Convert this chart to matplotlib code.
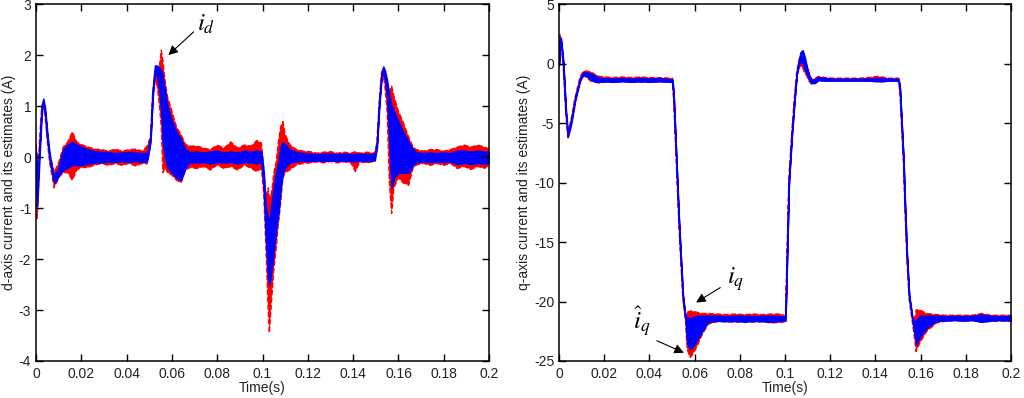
import numpy as np
import matplotlib
matplotlib.use("Agg")
import matplotlib.pyplot as plt

plt.rcParams['font.family'] = ['Liberation Sans', 'DejaVu Sans']
plt.rcParams['mathtext.fontset'] = 'stix'
plt.rcParams['axes.unicode_minus'] = False

# d-axis current: time knots and envelopes (lo/hi)
td = [0, 0.0005, 0.0015, 0.0025, 0.0032, 0.004, 0.005, 0.006, 0.007, 0.008, 0.009, 0.010,
      0.011, 0.012, 0.014, 0.016, 0.018, 0.020, 0.023, 0.026, 0.029, 0.032, 0.035, 0.038, 0.041, 0.044, 0.047, 0.049,
      0.0505, 0.0515, 0.0525, 0.0535, 0.0545, 0.0553, 0.056, 0.057, 0.058, 0.060, 0.062, 0.064, 0.066, 0.068,
      0.071, 0.074, 0.077, 0.080, 0.083, 0.086, 0.089, 0.092, 0.095, 0.0975, 0.0995,
      0.1005, 0.1015, 0.1025, 0.103, 0.104, 0.105, 0.106, 0.107, 0.108, 0.109, 0.110, 0.112, 0.115, 0.118,
      0.121, 0.124, 0.127, 0.130, 0.133, 0.136, 0.139, 0.141, 0.143, 0.146, 0.1495,
      0.1505, 0.1515, 0.1525, 0.1533, 0.154, 0.155, 0.156, 0.157, 0.158, 0.160, 0.162, 0.1645, 0.1665,
      0.168, 0.171, 0.174, 0.177, 0.180, 0.183, 0.186, 0.189, 0.192, 0.195, 0.198, 0.2]

id_est_lo = [-0.1, -0.95, 0.0, 0.88, 1.08, 0.85, 0.35, -0.05, -0.3, -0.5, -0.45, -0.35,
             -0.3, -0.25, -0.2, -0.15, -0.15, -0.15, -0.12, -0.1, -0.1, -0.08, -0.09, -0.07, -0.09, -0.07, -0.09, -0.07,
             0.3, 1.2, 1.7, 1.6, 1.3, 0.9, 0.3, 0.0, -0.2, -0.3, -0.4, -0.45, -0.2, -0.1,
             -0.1, -0.09, -0.12, -0.09, -0.1, -0.09, -0.12, -0.09, -0.1, -0.12, -0.09,
             -0.6, -1.6, -2.4, -2.5, -2.2, -1.8, -1.4, -1.1, -0.6, -0.3, -0.2, -0.1, -0.08, -0.06,
             -0.07, -0.06, -0.07, -0.06, -0.07, -0.06, -0.07, -0.08, -0.06, -0.07, -0.06,
             0.2, 1.0, 1.55, 1.7, 1.55, 1.2, 0.3, -0.6, -0.4, -0.3, -0.3, -0.3, -0.15,
             -0.09, -0.08, -0.09, -0.08, -0.09, -0.08, -0.13, -0.11, -0.13, -0.11, -0.13, -0.1]
id_est_hi = [0.1, -0.6, 0.2, 1.0, 1.15, 0.95, 0.45, 0.05, -0.2, -0.35, -0.3, -0.2,
             0.0, 0.15, 0.25, 0.3, 0.25, 0.2, 0.15, 0.12, 0.1, 0.1, 0.08, 0.09, 0.1, 0.09, 0.08, 0.08,
             0.4, 1.3, 1.8, 1.8, 1.75, 1.7, 1.55, 1.3, 1.0, 0.7, 0.5, 0.35, 0.15, 0.1,
             0.11, 0.09, 0.11, 0.13, 0.09, 0.11, 0.09, 0.13, 0.11, 0.13, 0.11,
             -0.3, -1.0, -1.2, -1.3, -0.9, -0.6, -0.3, -0.1, 0.2, 0.3, 0.25, 0.15, 0.1, 0.08,
             0.07, 0.06, 0.07, 0.07, 0.06, 0.07, 0.06, 0.06, 0.07, 0.06, 0.06,
             0.3, 1.1, 1.65, 1.78, 1.7, 1.5, 1.2, 1.0, 0.9, 0.7, 0.5, 0.3, 0.15,
             0.09, 0.08, 0.09, 0.08, 0.09, 0.08, 0.13, 0.13, 0.11, 0.13, 0.11, 0.1]
id_lo = [-0.2, -1.2, -0.1, 0.85, 1.0, 0.8, 0.3, -0.1, -0.35, -0.6, -0.5, -0.4,
         -0.35, -0.3, -0.3, -0.45, -0.25, -0.2, -0.2, -0.15, -0.12, -0.16, -0.12, -0.16, -0.12, -0.17, -0.12, -0.13,
         0.2, 1.1, 1.5, 1.4, 1.0, 0.6, -0.3, -0.2, -0.3, -0.35, -0.45, -0.5, -0.25, -0.2,
         -0.22, -0.18, -0.25, -0.15, -0.22, -0.18, -0.25, -0.15, -0.22, -0.28, -0.22,
         -0.7, -1.8, -3.0, -3.45, -2.8, -2.2, -1.8, -1.3, -0.9, -0.4, -0.3, -0.25, -0.15, -0.12,
         -0.11, -0.09, -0.11, -0.08, -0.11, -0.09, -0.11, -0.28, -0.09, -0.11, -0.08,
         0.2, 0.9, 1.45, 1.6, 1.4, 0.9, -0.5, -1.1, -0.6, -0.4, -0.5, -0.55, -0.2,
         -0.15, -0.12, -0.16, -0.12, -0.16, -0.12, -0.22, -0.18, -0.24, -0.18, -0.22, -0.15]
id_hi = [0.25, -0.5, 0.3, 1.0, 1.1, 0.95, 0.45, 0.1, -0.1, -0.3, -0.2, -0.1,
         0.05, 0.2, 0.3, 0.5, 0.3, 0.25, 0.2, 0.16, 0.15, 0.12, 0.16, 0.12, 0.15, 0.16, 0.12, 0.22,
         0.4, 1.3, 1.7, 1.7, 1.8, 2.1, 1.9, 1.5, 1.2, 0.9, 0.6, 0.45, 0.25, 0.22,
         0.22, 0.18, 0.15, 0.24, 0.18, 0.3, 0.18, 0.24, 0.22, 0.33, 0.28,
         -0.2, -0.8, -0.6, -0.8, -0.7, -0.3, -0.1, 0.3, 0.6, 0.7, 0.45, 0.25, 0.15, 0.12,
         0.11, 0.08, 0.1, 0.11, 0.08, 0.1, 0.08, 0.11, 0.08, 0.1, 0.08,
         0.3, 1.1, 1.65, 1.75, 1.6, 1.4, 1.3, 1.4, 1.2, 0.9, 0.7, 0.4, 0.2,
         0.15, 0.12, 0.15, 0.15, 0.12, 0.15, 0.2, 0.24, 0.2, 0.24, 0.2, 0.16]

# q-axis current
tq = [0, 0.0004, 0.0009, 0.0019, 0.003, 0.0039, 0.0048, 0.0056, 0.0071, 0.0093, 0.0108,
      0.012, 0.014, 0.016, 0.018, 0.020, 0.024, 0.028, 0.032, 0.036, 0.040, 0.044, 0.0495,
      0.0502, 0.0508, 0.0519, 0.053, 0.0538, 0.0548, 0.056, 0.0567, 0.058, 0.059, 0.061, 0.0633, 0.066,
      0.070, 0.074, 0.078, 0.082, 0.086, 0.090, 0.094, 0.098, 0.1002,
      0.1008, 0.1017, 0.103, 0.1042, 0.1052, 0.1062, 0.107, 0.1078, 0.1088, 0.1096, 0.1108, 0.1118, 0.113, 0.1148, 0.1178,
      0.121, 0.125, 0.129, 0.133, 0.137, 0.141, 0.143, 0.146, 0.1502,
      0.1508, 0.1516, 0.1524, 0.1531, 0.1539, 0.1549, 0.1564, 0.1576, 0.158, 0.1596, 0.1627, 0.1671,
      0.171, 0.175, 0.179, 0.183, 0.187, 0.191, 0.195, 0.2]

iq_est_lo = [-0.1, 1.9, 1.8, -0.2, -4.1, -6.15, -5.5, -4.8, -3.1, -1.4, -0.9,
             -1.0, -1.3, -1.5, -1.5, -1.45, -1.5, -1.45, -1.5, -1.45, -1.5, -1.45, -1.5,
             -1.5, -3.1, -8.1, -13.1, -16.1, -19.6, -21.6, -23.5, -24.0, -23.8, -23.3, -22.5, -21.7,
             -21.6, -21.65, -21.6, -21.7, -21.6, -21.65, -21.7, -21.6, -21.6,
             -17.1, -10.1, -6.1, -3.1, -0.9, 0.0, 0.2, 0.1, -0.5, -0.8, -1.4, -1.6, -1.6, -1.35, -1.4,
             -1.4, -1.4, -1.4, -1.4, -1.4, -1.45, -1.45, -1.4, -1.4,
             -2.1, -5.1, -8.1, -12.1, -16.1, -19.6, -21.6, -23.0, -23.6, -23.0, -22.2, -21.6,
             -21.6, -21.55, -21.6, -21.55, -21.7, -21.6, -21.55, -21.6]
iq_est_hi = [0.1, 2.2, 2.1, 0.2, -3.8, -5.85, -5.2, -4.5, -2.9, -1.2, -0.7,
             -0.7, -0.8, -1.0, -1.2, -1.2, -1.25, -1.2, -1.25, -1.2, -1.25, -1.2, -1.3,
             -1.3, -2.9, -7.9, -12.9, -15.9, -19.4, -21.4, -21.3, -21.5, -21.3, -21.2, -21.2, -21.2,
             -21.2, -21.25, -21.2, -21.2, -21.25, -21.2, -21.2, -21.25, -21.3,
             -16.9, -9.9, -5.9, -2.9, -0.7, 0.4, 1.0, 1.15, 0.5, -0.2, -1.0, -1.35, -1.3, -1.1, -1.2,
             -1.25, -1.25, -1.25, -1.25, -1.25, -1.2, -1.2, -1.25, -1.25,
             -1.9, -4.9, -7.9, -11.9, -15.9, -19.4, -21.4, -21.8, -21.6, -21.2, -21.2, -21.2,
             -21.25, -21.2, -21.25, -21.2, -21.1, -21.2, -21.25, -21.2]
iq_lo = [-0.2, 2.0, 1.7, -0.3, -4.2, -6.2, -5.6, -4.9, -3.2, -1.5, -1.0,
         -1.1, -1.45, -1.55, -1.6, -1.55, -1.55, -1.5, -1.55, -1.55, -1.5, -1.55, -1.5,
         -1.6, -3.3, -8.3, -13.3, -16.3, -19.8, -21.7, -24.0, -24.7, -24.5, -23.8, -22.8, -21.9,
         -21.7, -21.7, -21.75, -21.7, -21.75, -21.7, -21.8, -21.75, -21.7,
         -17.3, -10.3, -6.3, -3.3, -1.1, -0.3, -0.2, -0.3, -0.8, -1.0, -1.5, -1.7, -1.7, -1.45, -1.45,
         -1.45, -1.45, -1.45, -1.45, -1.45, -1.5, -1.5, -1.45, -1.45,
         -2.3, -5.3, -8.3, -12.3, -16.3, -19.8, -21.8, -23.5, -24.2, -23.5, -22.5, -21.8,
         -21.65, -21.6, -21.65, -21.6, -21.75, -21.65, -21.65, -21.65]
iq_hi = [0.2, 2.5, 2.2, 0.3, -3.7, -5.8, -5.1, -4.4, -2.8, -1.1, -0.6,
         -0.6, -0.65, -0.9, -1.05, -1.1, -1.15, -1.1, -1.15, -1.1, -1.15, -1.15, -1.2,
         -1.2, -2.8, -7.7, -12.7, -15.7, -19.2, -21.2, -20.9, -20.8, -20.8, -20.9, -21.0, -21.0,
         -21.05, -21.1, -21.05, -21.1, -21.05, -21.1, -21.05, -21.05, -21.2,
         -16.7, -9.7, -5.7, -2.7, -0.6, 0.3, 0.9, 1.0, 0.3, -0.1, -0.9, -1.3, -1.25, -1.05, -1.15,
         -1.2, -1.2, -1.2, -1.2, -1.15, -1.05, -1.1, -1.2, -1.2,
         -1.7, -4.7, -7.7, -11.7, -15.7, -19.2, -21.2, -21.4, -20.7, -20.7, -21.0, -21.1,
         -21.15, -21.15, -21.15, -21.15, -21.0, -21.15, -21.15, -21.15]

xticks = [0, 0.02, 0.04, 0.06, 0.08, 0.1, 0.12, 0.14, 0.16, 0.18, 0.2]
xticklabels = ['0', '0.02', '0.04', '0.06', '0.08', '0.1', '0.12', '0.14', '0.16', '0.18', '0.2']


def style(ax, ylim, yticks, ylabel):
    ax.set_xlim(0, 0.2)
    ax.set_ylim(*ylim)
    ax.set_xticks(xticks)
    ax.set_xticklabels(xticklabels)
    ax.set_yticks(yticks)
    ax.tick_params(direction='in', top=True, right=True, length=5, width=1, labelsize=10,
                   labelcolor='#222222')
    ax.tick_params(axis='x', pad=4)
    for s in ax.spines.values():
        s.set_linewidth(1.1)
    ax.set_xlabel('Time(s)', fontsize=10, labelpad=0, color='#222222')
    ax.set_ylabel(ylabel, fontsize=10, labelpad=2, color='#222222')


def arrow(ax, tip, tail):
    ax.annotate('', xy=tip, xytext=tail,
                arrowprops=dict(arrowstyle='-|>', color='black', lw=0.8, mutation_scale=14))


fig = plt.figure(figsize=(10.24, 3.98), dpi=100)
ax1 = fig.add_axes([0.0352, 0.093, 0.4424, 0.8957])
ax2 = fig.add_axes([0.5459, 0.093, 0.4414, 0.8957])

ax1.fill_between(td, id_lo, id_hi, facecolor='red', edgecolor='red', lw=1.0, ls='--')
ax1.fill_between(td, id_est_lo, id_est_hi, facecolor='blue', edgecolor='blue', lw=1.2)
style(ax1, (-4, 3), range(-4, 4), 'd-axis current and its estimates (A)')
arrow(ax1, (0.0575, 1.97), (0.0705, 2.5))
ax1.text(0.0712, 2.62, r'$i_d$', fontsize=18, ha='left', va='center')

ax2.fill_between(tq, iq_lo, iq_hi, facecolor='red', edgecolor='red', lw=1.0, ls='--')
ax2.fill_between(tq, iq_est_lo, iq_est_hi, facecolor='blue', edgecolor='blue', lw=1.2)
style(ax2, (-25, 5), range(-25, 6, 5), 'q-axis current and its estimates (A)')
arrow(ax2, (0.0596, -20.2), (0.0724, -18.7))
ax2.text(0.0742, -18.1, r'$i_q$', fontsize=18, ha='left', va='center')
arrow(ax2, (0.0564, -24.4), (0.0422, -23.2))
ax2.text(0.0368, -21.7, r'$\widehat{i}_q$', fontsize=18, ha='center', va='center')

fig.savefig('out.png', dpi=100)
